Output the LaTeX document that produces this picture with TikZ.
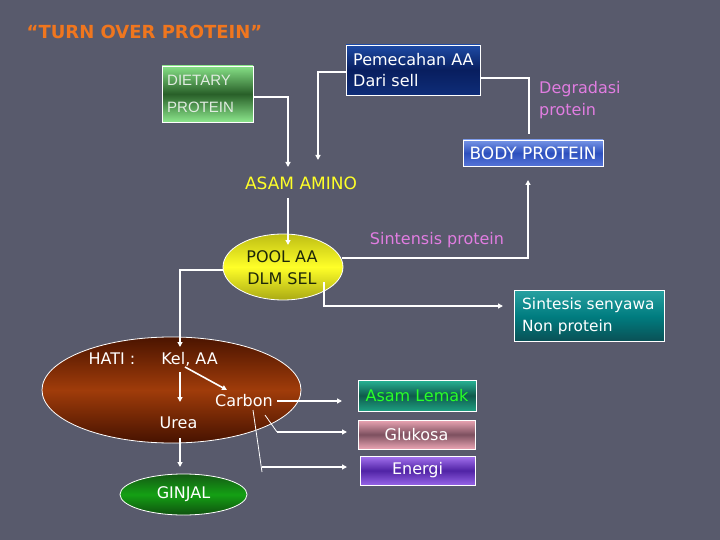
\documentclass[tikz,border=0pt]{standalone}
\usepackage{fontspec}
\setmainfont{DejaVu Sans}
\newfontfamily\thinfont{Liberation Sans}
\usetikzlibrary{shapes.geometric,arrows.meta}
\definecolor{bg}{RGB}{88,90,108}
\definecolor{titleor}{RGB}{240,118,30}
\definecolor{pinktx}{RGB}{225,125,225}
\definecolor{yel}{RGB}{255,255,40}
\tikzset{
  conn/.style={draw=white,line width=1.6pt,-{Triangle[length=5pt,width=5pt]}},
  plain/.style={draw=white,line width=1.6pt},
  thin/.style={draw=white,line width=0.8pt},
  lbl/.style={font=\fontsize{16}{19}\selectfont,inner sep=0pt},
  box/.style={draw=white,line width=0.8pt,rectangle,inner sep=0pt,font=\fontsize{16}{21}\selectfont,text=white},
  oval/.style={draw=white,line width=0.8pt,ellipse,inner sep=0pt,font=\fontsize{16}{22}\selectfont},
}
\begin{document}
\begin{tikzpicture}[x=1pt,y=-1pt]
\fill[bg] (0,0) rectangle (720,540);
\useasboundingbox (0,0) rectangle (720,540);
% title
\node[lbl,text=titleor,font=\fontsize{18}{20}\selectfont\bfseries] (title) at (144.5,32) {“TURN OVER PROTEIN”};
% boxes
\node[box,minimum width=91pt,minimum height=56pt,top color={rgb,255:red,135;green,225;blue,135},bottom color={rgb,255:red,140;green,230;blue,140},middle color={rgb,255:red,40;green,95;blue,40}] (diet) at (207.5,94) {};
\node[lbl,anchor=west,text={rgb,255:red,225;green,235;blue,225},font=\thinfont\fontsize{15}{18}\selectfont] (dietA) at (167,80) {DIETARY};
\node[lbl,anchor=west,text={rgb,255:red,225;green,235;blue,225},font=\thinfont\fontsize{15}{18}\selectfont] (dietB) at (167,107) {PROTEIN};
\node[box,minimum width=134pt,minimum height=50pt,top color={rgb,255:red,30;green,75;blue,165},bottom color={rgb,255:red,15;green,45;blue,120},middle color={rgb,255:red,8;green,30;blue,95}] (pem) at (413,70) {};
\node[lbl,anchor=west,text=white,align=left,font=\fontsize{16}{21}\selectfont] (pemt) at (353,70.5) {Pemecahan AA\\Dari sell};
\node[lbl,anchor=west,text=pinktx,align=left,font=\fontsize{16}{22}\selectfont] (degr) at (539,100) {Degradasi\\protein};
\node[box,minimum width=140pt,minimum height=26pt,top color={rgb,255:red,120;green,150;blue,230},bottom color={rgb,255:red,85;green,115;blue,215},middle color={rgb,255:red,45;green,80;blue,190},font=\fontsize{17}{21}\selectfont] (body) at (533,153) {BODY PROTEIN};
\node[lbl,text=yel,font=\fontsize{17}{20}\selectfont] (asam) at (301,183) {ASAM AMINO};
\node[oval,minimum width=120pt,minimum height=66pt,top color={rgb,255:red,190;green,190;blue,20},bottom color={rgb,255:red,170;green,170;blue,20},middle color=yel] (pool) at (283,267) {};
\node[lbl,text={rgb,255:red,30;green,40;blue,10},align=center,font=\fontsize{16}{22}\selectfont] (poolt) at (282,268) {POOL AA\\DLM SEL};
\node[lbl,text=pinktx] (sintp) at (437,240) {Sintensis protein};
\node[box,minimum width=150pt,minimum height=51pt,top color={rgb,255:red,40;green,160;blue,160},bottom color={rgb,255:red,10;green,80;blue,85},middle color={rgb,255:red,0;green,125;blue,128}] (sen) at (589,316) {};
\node[lbl,anchor=west,text=white,align=left,font=\fontsize{15.4}{22}\selectfont] (sent) at (522,316.5) {Sintesis senyawa\\Non protein};
% liver
\node[oval,minimum width=259pt,minimum height=106pt,top color={rgb,255:red,75;green,20;blue,0},bottom color={rgb,255:red,70;green,18;blue,0},middle color={rgb,255:red,160;green,60;blue,10}] (hati) at (171.5,390) {};
\node[lbl,text=white] (hatit) at (112,359) {HATI :};
\node[lbl,text=white] (kel) at (189.5,359) {Kel, AA};
\node[lbl,text=white] (carbon) at (244,401) {Carbon};
\node[lbl,text=white] (urea) at (178.5,423) {Urea};
\node[oval,minimum width=127pt,minimum height=41pt,text=white,top color={rgb,255:red,20;green,90;blue,20},bottom color={rgb,255:red,15;green,80;blue,15},middle color={rgb,255:red,20;green,160;blue,20}] (ginjal) at (183.5,494.5) {GINJAL};
\node[box,minimum width=118pt,minimum height=31pt,text={rgb,255:red,40;green,255;blue,40},top color={rgb,255:red,40;green,180;blue,150},bottom color={rgb,255:red,30;green,160;blue,130},middle color={rgb,255:red,15;green,90;blue,75}] (lemak) at (417,395.5) {Asam Lemak};
\node[box,minimum width=117pt,minimum height=29pt,top color={rgb,255:red,235;green,165;blue,180},bottom color={rgb,255:red,235;green,165;blue,180},middle color={rgb,255:red,125;green,80;blue,95}] (gluk) at (416.5,434.5) {Glukosa};
\node[box,minimum width=115pt,minimum height=29pt,top color={rgb,255:red,165;green,115;blue,240},bottom color={rgb,255:red,150;green,100;blue,230},middle color={rgb,255:red,80;green,35;blue,165}] (ener) at (417.5,470.5) {Energi};
% route coordinates
\coordinate (b1) at (288,97);  \coordinate (e1) at (288,167);
\coordinate (b2) at (318,72);  \coordinate (e2) at (318,160);
\coordinate (b3) at (529,78);  \coordinate (e3) at (529,134);
\coordinate (b4) at (288,198); \coordinate (e4) at (288,245);
\coordinate (s5) at (342,258); \coordinate (b5) at (528,258); \coordinate (e5) at (528,180);
\coordinate (s6) at (324,282); \coordinate (b6) at (324,306); \coordinate (e6) at (503,306);
\coordinate (b7) at (180,270); \coordinate (e7) at (180,347);
\coordinate (s8) at (180,372); \coordinate (e8) at (180,402);
\coordinate (s9) at (185,367); \coordinate (e9) at (227,390);
\coordinate (s10) at (180,438); \coordinate (e10) at (180,467);
\coordinate (s11) at (277,401); \coordinate (e11) at (342,401);
\coordinate (s12) at (265,415); \coordinate (b12) at (277,432); \coordinate (e12) at (347,432);
\coordinate (s13) at (253,410); \coordinate (t13) at (262,472); \coordinate (b13) at (262,467); \coordinate (e13) at (347,467);
% connectors
\draw[conn] (diet.east |- b1) -- (b1) -- (e1);
\draw[conn] (pem.west |- b2) -- (b2) -- (e2);
\draw[plain] (pem.east |- b3) -- (b3) -- (e3);
\draw[conn] (b4) -- (e4);
\draw[conn] (s5) -- (b5) -- (e5);
\draw[conn] (s6) -- (b6) -- (e6);
\draw[conn] (pool.west |- b7) -- (b7) -- (e7);
\draw[conn] (s8) -- (e8);
\draw[conn] (s9) -- (e9);
\draw[conn] (s10) -- (e10);
\draw[conn] (s11) -- (e11);
\draw[thin] (s12) -- (b12);
\draw[conn] (b12) -- (e12);
\draw[thin] (s13) -- (t13);
\draw[conn] (b13) -- (e13);
\end{tikzpicture}
\end{document}
